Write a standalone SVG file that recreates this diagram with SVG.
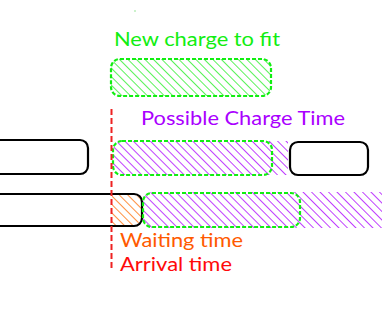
<svg xmlns="http://www.w3.org/2000/svg" width="382" height="309" viewBox="0 0 382 309">
  <defs>
    <pattern id="hatch-green" patternUnits="userSpaceOnUse" width="6" height="6" patternTransform="rotate(-45)">
      <line x1="0" y1="0" x2="0" y2="6" stroke="#22ee22" stroke-width="1.5"/>
    </pattern>
    <pattern id="hatch-purple" patternUnits="userSpaceOnUse" width="6" height="6" patternTransform="rotate(-45)">
      <line x1="0" y1="0" x2="0" y2="6" stroke="#aa00ff" stroke-width="1.5"/>
    </pattern>
    <pattern id="hatch-orange" patternUnits="userSpaceOnUse" width="6" height="6" patternTransform="rotate(-45)">
      <line x1="0" y1="0" x2="0" y2="6" stroke="#ff6a00" stroke-width="1.5"/>
    </pattern>
  </defs>
  <style>
    .label { font-family: Lato, "Open Sans", "Liberation Sans", sans-serif; font-size: 19.5px; }
    .busy { fill: #ffffff; stroke: #000000; stroke-width: 2.2; }
    .slot { fill: none; stroke: #11ee11; stroke-width: 2.2; stroke-dasharray: 4 2; }
  </style>

  <rect x="134.5" y="10.5" width="1" height="1" fill="#33cc33"/>

  <!-- new charge -->
  <g id="new-charge">
    <text class="label" x="114" y="46" fill="#11ee11" textLength="166" lengthAdjust="spacingAndGlyphs">New charge to fit</text>
    <rect x="111" y="59" width="160" height="37" rx="9" fill="url(#hatch-green)"/>
    <rect class="slot" x="111" y="59" width="160" height="37" rx="9"/>
  </g>

  <!-- possible charge time label -->
  <g id="possible-label">
    <text class="label" x="141" y="125" fill="#aa00ff" textLength="204" lengthAdjust="spacingAndGlyphs">Possible Charge Time</text>
  </g>

  <!-- row 2 -->
  <g id="row2-busy-left">
    <rect class="busy" x="-12" y="140" width="100" height="34" rx="8"/>
  </g>
  <g id="row2-possible">
    <path d="M122,141 H288 V175 H122 A9,9 0 0 1 113,166 V150 A9,9 0 0 1 122,141 Z" fill="url(#hatch-purple)"/>
    <rect class="slot" x="113" y="141" width="159" height="34" rx="9"/>
  </g>
  <g id="row2-busy-right">
    <rect class="busy" x="290" y="142" width="78" height="33" rx="8"/>
  </g>

  <!-- row 3 -->
  <g id="row3-busy">
    <rect class="busy" x="-12" y="194" width="154" height="32" rx="8"/>
  </g>
  <g id="waiting">
    <path d="M112,195 H133 A8,8 0 0 1 141,203 V217 A8,8 0 0 1 133,225 H112 Z" fill="url(#hatch-orange)"/>
  </g>
  <g id="row3-possible">
    <path d="M152,192 H382 V228 H152 A9,9 0 0 1 143,219 V201 A9,9 0 0 1 152,192 Z" fill="url(#hatch-purple)"/>
    <rect class="slot" x="143" y="193" width="157" height="34" rx="9"/>
  </g>

  <!-- arrival marker -->
  <g id="connectors">
    <line x1="111.5" y1="109" x2="111.5" y2="268" stroke="#ee2222" stroke-width="2" stroke-dasharray="6 3"/>
  </g>

  <g id="labels-bottom">
    <text class="label" x="120" y="247" fill="#ff5a00" textLength="123" lengthAdjust="spacingAndGlyphs">Waiting time</text>
    <text class="label" x="120" y="271" fill="#ff0a0a" textLength="112" lengthAdjust="spacingAndGlyphs">Arrival time</text>
  </g>
</svg>
